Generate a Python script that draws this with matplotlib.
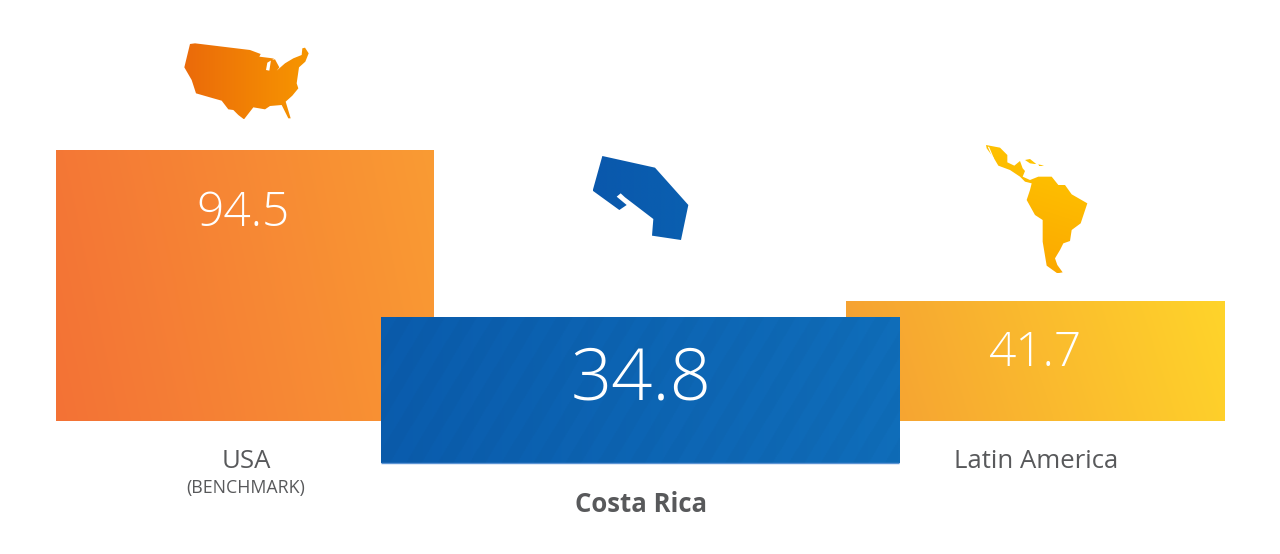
import numpy as np
import matplotlib
matplotlib.use('Agg')
import matplotlib.pyplot as plt
from matplotlib.colors import LinearSegmentedColormap
from matplotlib.patches import Polygon

# data
regions = ['USA', 'Latin America']
region_values = [94.5, 41.7]
focus_region = 'Costa Rica'
focus_value = 34.8
benchmark_note = '(BENCHMARK)'

usa_outline = [(60, 42), (75, 40), (240, 60), (272, 72), (268, 80), (300, 84), (312, 86), (292, 98),
               (288, 120), (298, 122), (303, 90), (315, 88), (328, 112), (320, 122), (345, 100),
               (370, 85), (395, 75), (397, 55), (405, 53), (416, 70), (406, 95), (387, 112),
               (380, 160), (385, 175), (367, 197), (347, 215), (362, 265), (355, 265), (335, 225),
               (300, 228), (285, 238), (250, 232), (222, 268), (205, 255), (190, 240), (175, 238),
               (155, 212), (130, 205), (78, 190), (65, 150), (43, 112)]
costa_rica_outline = [(67, 33), (225, 68), (325, 180), (303, 285), (216, 272), (220, 222), (135, 157),
                      (122, 145), (110, 155), (140, 180), (118, 195), (38, 137)]
latam_outline = [(48, 30), (90, 38), (112, 60), (112, 82), (133, 92), (150, 78), (158, 100), (165, 108),
                 (158, 125), (180, 135), (205, 125), (245, 125), (265, 150), (285, 150), (305, 178),
                 (352, 205), (332, 265), (305, 285), (300, 318), (280, 325), (270, 345), (255, 370),
                 (262, 390), (278, 412), (262, 415), (230, 392), (218, 320), (218, 255), (195, 240),
                 (170, 195), (180, 165), (185, 145), (165, 140), (150, 125), (120, 105), (85, 92),
                 (72, 70), (50, 40)]
baja_gap = [(56, 37), (70, 70)]
cuba_outline = [(165, 75), (180, 72), (200, 88), (180, 85)]
hispaniola_outline = [(205, 88), (222, 92), (208, 94)]

plt.rcParams['font.family'] = ['Open Sans', 'DejaVu Sans']
fig = plt.figure(figsize=(12.8, 5.54), dpi=100)
ax = fig.add_axes([0, 0, 1, 1])
ax.axis('off')


def gradient_fill(patch, c1, c2, box, direction=(1, 0), stripes=False):
    # paints a linear gradient inside the patch, box is left, right, top, bottom
    left, right, top, bottom = box
    xx, yy = np.meshgrid(np.linspace(0, 1, 400), np.linspace(0, 1, 200))
    z = direction[0] * xx + direction[1] * yy
    z = (z - z.min()) / (z.max() - z.min())
    rgba = LinearSegmentedColormap.from_list('g', [c1, c2])(z)
    if stripes:
        px = xx * (right - left) + yy * (bottom - top) * 0.6
        band = (px % 32) < 16
        rgba[..., :3] = np.where(band[..., None], rgba[..., :3] * 1.022, rgba[..., :3]).clip(0, 1)
    im = ax.imshow(rgba, extent=[left, right, bottom, top], origin='upper', aspect='auto',
                   interpolation='bilinear', zorder=patch.get_zorder())
    im.set_clip_path(patch)


def map_shape(outline, dx, dy, c1, c2, direction=(1, 0)):
    pts = np.array(outline) / 3 + [dx, dy]
    poly = Polygon(pts, closed=True, facecolor='none', edgecolor='none', zorder=3)
    ax.add_patch(poly)
    gradient_fill(poly, c1, c2, [pts[:, 0].min(), pts[:, 0].max(), pts[:, 1].min(), pts[:, 1].max()], direction)


# side bars share a baseline and scale
baseline = 421
scale = 2.87
usa_h = region_values[0] * scale
lat_h = region_values[1] * scale
usa_bar = ax.bar(56, usa_h, width=378, bottom=baseline - usa_h, align='edge', color='none', zorder=1)[0]
gradient_fill(usa_bar, '#F37236', '#FA9B33', [56, 434, baseline - usa_h, baseline], direction=(1, -0.15))
lat_bar = ax.bar(846, lat_h, width=379, bottom=baseline - lat_h, align='edge', color='none', zorder=1)[0]
gradient_fill(lat_bar, '#F59E33', '#FFD42A', [846, 1225, baseline - lat_h, baseline], direction=(1, -0.1))

# Costa Rica bar is drawn larger, in front
cr_h = focus_value * 4.2
cr_bottom = 463
cr_bar = ax.bar(381, cr_h, width=519, bottom=cr_bottom - cr_h, align='edge', color='none', zorder=2)[0]
gradient_fill(cr_bar, '#0A5AA9', '#0F6BB6', [381, 900, cr_bottom - cr_h, cr_bottom], stripes=True)
ax.plot([381, 899], [cr_bottom, cr_bottom], color='#5B93D3', lw=1, zorder=2, solid_capstyle='butt')

# maps
map_shape(usa_outline, 170, 30, '#EB6A0A', '#F79600')
map_shape(costa_rica_outline, 580, 145, '#0A58AC', '#0A5FB0')
map_shape(latam_outline, 970, 135, '#FFC800', '#FBA400', direction=(-0.25, 1))
map_shape(cuba_outline, 970, 135, '#FFC000', '#FFC800')
map_shape(hispaniola_outline, 970, 135, '#FFC000', '#FFC800')
baja = np.array(baja_gap) / 3 + [970, 135]
ax.plot(baja[:, 0], baja[:, 1], color='white', lw=0.8, zorder=4)

# values
ax.text(243, 214, f'{region_values[0]}', color='white', fontsize=34.5, fontweight='light', ha='center', va='center', zorder=4)
ax.text(641, 381, f'{focus_value}', color='white', fontsize=52, fontweight='light', ha='center', va='center', zorder=4)
ax.text(1035, 354, f'{region_values[1]}', color='white', fontsize=34.5, fontweight='light', ha='center', va='center', zorder=4)

# labels
grey = '#58595B'
ax.text(246, 462, regions[0], color=grey, fontsize=18.5, ha='center', va='center')
ax.text(246, 488, benchmark_note, color=grey, fontsize=12.8, ha='center', va='center')
ax.text(1036, 462, regions[1], color=grey, fontsize=18.5, ha='center', va='center')
ax.text(641, 505, focus_region, color=grey, fontsize=18.5, fontweight='bold', ha='center', va='center')

ax.set_xlim(0, 1280)
ax.set_ylim(554, 0)

fig.savefig('out.png', dpi=100, facecolor='white')
